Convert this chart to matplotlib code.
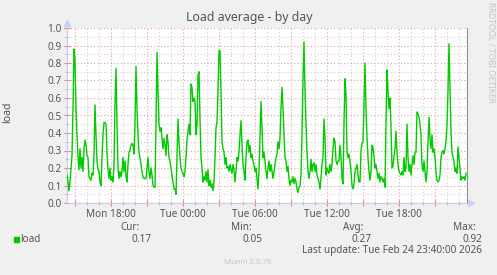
import numpy as np
import matplotlib.pyplot as plt
from matplotlib.ticker import MultipleLocator, FuncFormatter

plt.rcParams['font.family'] = ['Noto Sans', 'DejaVu Sans']

# 5 minute samples, Mon 14:20 -> Tue 23:35 (hours counted from Mon 00:00)
start_h = 14 + 20 / 60
end_h = 47 + 40 / 60

load = [
    0.16, 0.12, 0.07, 0.12, 0.20, 0.27, 0.54, 0.88, 0.81, 0.54,
    0.39, 0.26, 0.19, 0.31, 0.20, 0.26, 0.18, 0.31, 0.36, 0.33,
    0.27, 0.26, 0.15, 0.14, 0.13, 0.17, 0.16, 0.27, 0.56, 0.39,
    0.24, 0.19, 0.18, 0.12, 0.10, 0.26, 0.39, 0.46, 0.46, 0.45,
    0.29, 0.19, 0.14, 0.20, 0.13, 0.15, 0.12, 0.22, 0.56, 0.77,
    0.45, 0.20, 0.14, 0.18, 0.15, 0.18, 0.26, 0.18, 0.24, 0.15,
    0.12, 0.22, 0.29, 0.30, 0.33, 0.34, 0.33, 0.28, 0.45, 0.78,
    0.54, 0.39, 0.29, 0.26, 0.22, 0.18, 0.15, 0.14, 0.14, 0.14,
    0.20, 0.26, 0.18, 0.14, 0.20, 0.16, 0.10, 0.09, 0.09, 0.45,
    0.86, 0.64, 0.45, 0.41, 0.43, 0.37, 0.31, 0.37, 0.33, 0.27,
    0.39, 0.35, 0.26, 0.24, 0.20, 0.16, 0.12, 0.08, 0.08, 0.05,
    0.26, 0.48, 0.35, 0.26, 0.20, 0.18, 0.17, 0.15, 0.18, 0.26,
    0.36, 0.41, 0.45, 0.39, 0.68, 0.66, 0.58, 0.60, 0.58, 0.39,
    0.45, 0.73, 0.75, 0.48, 0.26, 0.20, 0.12, 0.15, 0.13, 0.18,
    0.12, 0.19, 0.10, 0.13, 0.09, 0.11, 0.07, 0.12, 0.26, 0.43,
    0.46, 0.64, 0.87, 0.87, 0.64, 0.35, 0.31, 0.29, 0.22, 0.26,
    0.20, 0.21, 0.18, 0.22, 0.19, 0.17, 0.22, 0.19, 0.12, 0.18,
    0.26, 0.24, 0.29, 0.39, 0.47, 0.33, 0.22, 0.18, 0.13, 0.26,
    0.35, 0.36, 0.29, 0.33, 0.26, 0.28, 0.24, 0.22, 0.18, 0.20,
    0.14, 0.08, 0.18, 0.39, 0.58, 0.43, 0.26, 0.29, 0.24, 0.18,
    0.14, 0.20, 0.24, 0.18, 0.22, 0.18, 0.14, 0.18, 0.22, 0.26,
    0.28, 0.35, 0.31, 0.37, 0.54, 0.66, 0.54, 0.39, 0.26, 0.24,
    0.18, 0.21, 0.14, 0.10, 0.13, 0.12, 0.15, 0.11, 0.14, 0.12,
    0.08, 0.06, 0.09, 0.10, 0.16, 0.39, 0.71, 0.92, 0.64, 0.45,
    0.29, 0.18, 0.14, 0.18, 0.25, 0.18, 0.22, 0.23, 0.18, 0.22,
    0.16, 0.14, 0.12, 0.08, 0.14, 0.22, 0.26, 0.48, 0.37, 0.16,
    0.20, 0.18, 0.17, 0.22, 0.18, 0.22, 0.31, 0.37, 0.35, 0.24,
    0.22, 0.24, 0.24, 0.33, 0.26, 0.14, 0.11, 0.45, 0.71, 0.62,
    0.29, 0.26, 0.28, 0.24, 0.18, 0.10, 0.08, 0.11, 0.18, 0.20,
    0.22, 0.16, 0.12, 0.12, 0.30, 0.34, 0.35, 0.56, 0.80, 0.54,
    0.37, 0.26, 0.18, 0.13, 0.18, 0.33, 0.32, 0.26, 0.20, 0.22,
    0.18, 0.14, 0.17, 0.12, 0.15, 0.14, 0.12, 0.14, 0.09, 0.45,
    0.76, 0.64, 0.54, 0.60, 0.43, 0.20, 0.21, 0.27, 0.31, 0.41,
    0.29, 0.22, 0.18, 0.17, 0.16, 0.18, 0.16, 0.26, 0.18, 0.20,
    0.45, 0.26, 0.18, 0.22, 0.16, 0.22, 0.27, 0.22, 0.29, 0.29,
    0.52, 0.51, 0.49, 0.45, 0.39, 0.22, 0.18, 0.24, 0.18, 0.12,
    0.18, 0.35, 0.49, 0.37, 0.31, 0.39, 0.29, 0.31, 0.26, 0.18,
    0.13, 0.12, 0.13, 0.16, 0.26, 0.29, 0.30, 0.28, 0.31, 0.35,
    0.45, 0.64, 0.91, 0.67, 0.41, 0.29, 0.26, 0.24, 0.18, 0.20,
    0.17, 0.32, 0.26, 0.20, 0.13, 0.15, 0.14, 0.15, 0.13, 0.17,
]
hours = start_h + np.arange(len(load)) * 5 / 60

stat_names = ['Cur:', 'Min:', 'Avg:', 'Max:']
stat_values = ['0.17', '0.05', '0.27', '0.92']
last_update = 'Last update: Tue Feb 24 23:40:00 2026'

W, H = 497, 275
txt = '#555555'
faint = '#c4c4c4'

fig = plt.figure(figsize=(W / 100, H / 100), dpi=100, facecolor='#f0f0f0')
ax = fig.add_axes((67 / W, 72 / H, 400 / W, 175 / H))
ax.set_facecolor('white')

ax.plot(hours, load, color='#00cc00', lw=1.0, zorder=3)

ax.set_xlim(start_h, end_h)
ax.set_ylim(0, 1.0)

ax.xaxis.set_major_locator(MultipleLocator(3))
ax.xaxis.set_minor_locator(MultipleLocator(1))
ax.yaxis.set_major_locator(MultipleLocator(0.1))
ax.yaxis.set_minor_locator(MultipleLocator(0.05))


def hour_label(h, pos):
    h = int(round(h))
    if h % 6:
        return ''
    day = 'Mon' if h < 24 else 'Tue'
    return f'{day} {h % 24:02d}:00'


ax.xaxis.set_major_formatter(FuncFormatter(hour_label))
ax.yaxis.set_major_formatter(FuncFormatter(lambda v, p: f'{v:.1f}'))

dot = (0, (1, 2))
ax.grid(which='major', color='#e8a0a0', ls=dot, lw=0.8)
ax.grid(which='minor', color='#d0d0d0', ls=dot, lw=0.8)
ax.set_axisbelow(True)

ax.tick_params(which='both', labelsize=7.2, labelcolor=txt, direction='inout', pad=2)
ax.tick_params(which='major', color='#e08080', length=4, width=0.8)
ax.tick_params(which='minor', color='#c0c0c0', length=3, width=0.8)

for s in ['left', 'bottom']:
    ax.spines[s].set_color('#c8c8f0')
ax.spines['top'].set_visible(False)
ax.spines['right'].set_color('#909090')

# axis arrows
ax.plot([0], [1.026], marker='^', ms=4, color='#c8d0f8', transform=ax.transAxes, clip_on=False)
ax.plot([1.01], [0], marker='>', ms=4, color='#c8d0f8', transform=ax.transAxes, clip_on=False)

fig.text(249 / W, 1 - 18 / H, 'Load average - by day', ha='center', va='center',
         fontsize=8.9, color=txt)
fig.text(8 / W, 1 - 112 / H, 'load', rotation=90, ha='center', va='center',
         fontsize=7.5, color=txt)
fig.text(490 / W, 1 - 52 / H, 'RRDTOOL / TOBI OETIKER', rotation=270, ha='center',
         va='center', fontsize=6, color=faint)

# legend
fig.patches.append(plt.Rectangle((14 / W, 1 - 242 / H), 5.3 / W, 5.3 / H,
                                 transform=fig.transFigure, color='#00cc00'))
fig.text(20 / W, 1 - 239 / H, 'load', ha='left', va='center', fontsize=7.2, color=txt)
name_x = [139.3, 252, 363, 476]
val_x = [151.7, 262.3, 372, 482]
for n, v, nx, vx in zip(stat_names, stat_values, name_x, val_x):
    fig.text(nx / W, 1 - 227.5 / H, n, ha='right', va='center', fontsize=7.2, color=txt)
    fig.text(vx / W, 1 - 239 / H, v, ha='right', va='center', fontsize=7.2, color=txt)
fig.text(482 / W, 1 - 251 / H, last_update, ha='right', va='center', fontsize=7.2, color=txt)
fig.text(248 / W, 1 - 262.5 / H, 'Munin 2.0.76', ha='center', va='center',
         fontsize=5.6, color=faint)

fig.savefig('out.png', dpi=100, facecolor=fig.get_facecolor())
